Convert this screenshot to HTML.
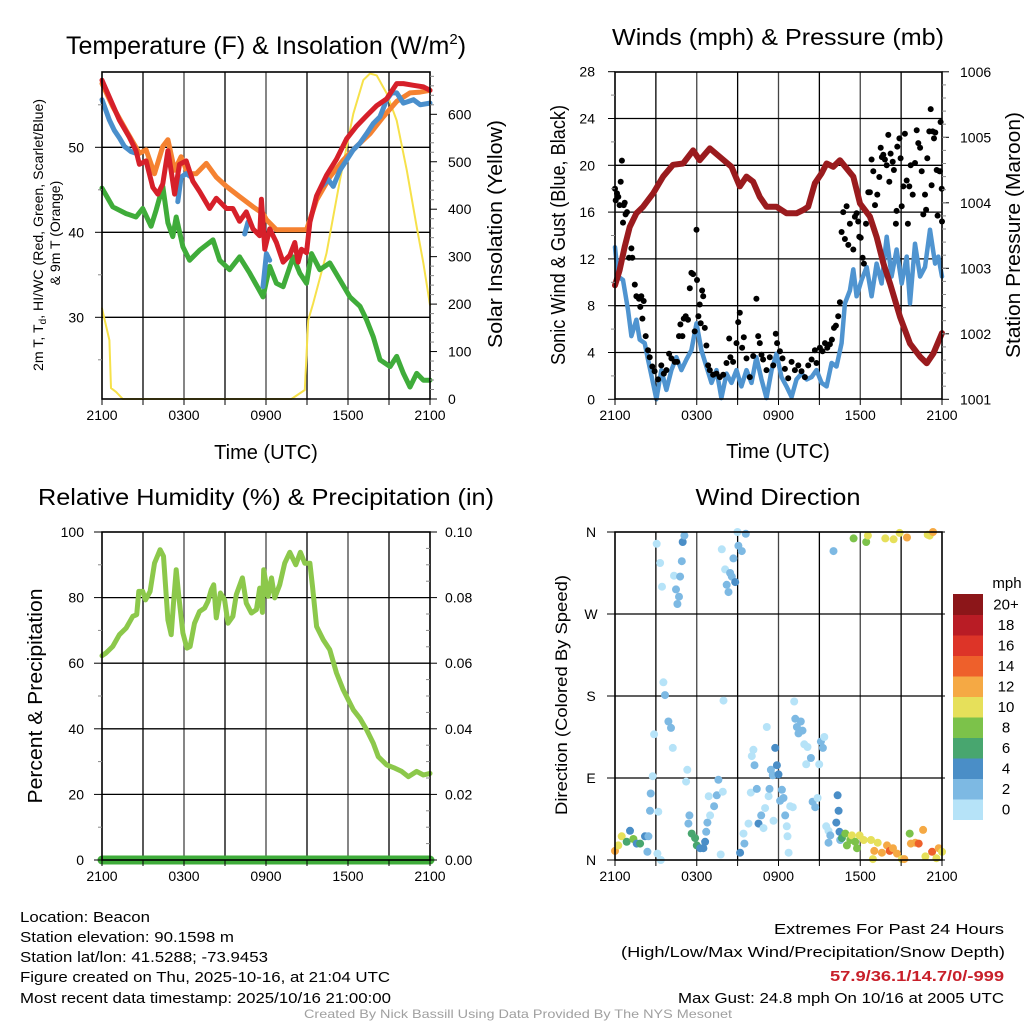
<!DOCTYPE html>
<html><head><meta charset="utf-8"><style>
html,body{margin:0;padding:0;background:#fff;}
svg{display:block;font-family:"Liberation Sans",Arial,sans-serif;}
</style></head><body>
<svg id="fig" width="1024" height="1024" viewBox="0 0 1024 1024">
<rect x="0" y="0" width="1024" height="1024" fill="#fff"/>
<g id="layer-grid"></g>
<g id="layer-data"></g>
<g id="layer-frame"></g>
<g font-size="23" fill="#000">
<text x="266" y="54" text-anchor="middle" font-size="25">Temperature (F) &amp; Insolation (W/m<tspan dy="-10" font-size="15">2</tspan><tspan dy="10">)</tspan></text>
<text x="778" y="45" text-anchor="middle" textLength="332" lengthAdjust="spacingAndGlyphs">Winds (mph) &amp; Pressure (mb)</text>
<text x="266" y="505" text-anchor="middle" textLength="456" lengthAdjust="spacingAndGlyphs">Relative Humidity (%) &amp; Precipitation (in)</text>
<text x="778" y="505" text-anchor="middle" textLength="165" lengthAdjust="spacingAndGlyphs">Wind Direction</text>
</g>
<g font-size="20" fill="#000">
<text x="266" y="459" text-anchor="middle">Time (UTC)</text>
<text x="778" y="458" text-anchor="middle">Time (UTC)</text>
<text transform="translate(502,234) rotate(-90)" text-anchor="middle" textLength="228" lengthAdjust="spacingAndGlyphs">Solar Insolation (Yellow)</text>
<text transform="translate(565,235) rotate(-90)" text-anchor="middle" textLength="260" lengthAdjust="spacingAndGlyphs">Sonic Wind &amp; Gust (Blue, Black)</text>
<text transform="translate(1020,235) rotate(-90)" text-anchor="middle" textLength="246" lengthAdjust="spacingAndGlyphs">Station Pressure (Maroon)</text>
<text transform="translate(42,696) rotate(-90)" text-anchor="middle" textLength="215" lengthAdjust="spacingAndGlyphs">Percent &amp; Precipitation</text>
<text transform="translate(567,695) rotate(-90)" text-anchor="middle" font-size="17" textLength="240" lengthAdjust="spacingAndGlyphs">Direction (Colored By Speed)</text>
</g>
<g font-size="14" fill="#000">
<text transform="translate(43,235) rotate(-90)" text-anchor="middle" textLength="272" lengthAdjust="spacingAndGlyphs">2m T, T<tspan font-size="10" dy="3">d</tspan><tspan dy="-3">, HI/WC (Red, Green, Scarlet/Blue)</tspan></text>
<text transform="translate(60,233) rotate(-90)" text-anchor="middle">&amp; 9m T (Orange)</text>
</g>
<g id="layer-ticks" font-size="14" fill="#000"></g>
<g id="colorbar"></g>
<g font-size="15" fill="#000">
<text x="20" y="922" textLength="130" lengthAdjust="spacingAndGlyphs">Location: Beacon</text>
<text x="20" y="942" textLength="214" lengthAdjust="spacingAndGlyphs">Station elevation: 90.1598 m</text>
<text x="20" y="962" textLength="248" lengthAdjust="spacingAndGlyphs">Station lat/lon: 41.5288; -73.9453</text>
<text x="20" y="982" textLength="370" lengthAdjust="spacingAndGlyphs">Figure created on Thu, 2025-10-16, at 21:04 UTC</text>
<text x="20" y="1003" textLength="371" lengthAdjust="spacingAndGlyphs">Most recent data timestamp: 2025/10/16 21:00:00</text>
<text x="1004" y="934" text-anchor="end" textLength="230" lengthAdjust="spacingAndGlyphs">Extremes For Past 24 Hours</text>
<text x="1005" y="957" text-anchor="end" textLength="384" lengthAdjust="spacingAndGlyphs">(High/Low/Max Wind/Precipitation/Snow Depth)</text>
<text x="1004" y="981" text-anchor="end" font-weight="bold" fill="#c8202a" textLength="174" lengthAdjust="spacingAndGlyphs">57.9/36.1/14.7/0/-999</text>
<text x="1004" y="1003" text-anchor="end" textLength="326" lengthAdjust="spacingAndGlyphs">Max Gust: 24.8 mph On 10/16 at 2005 UTC</text>
</g>
<text x="518" y="1018" text-anchor="middle" font-size="12" fill="#a0a0a0" textLength="428" lengthAdjust="spacingAndGlyphs">Created By Nick Bassill Using Data Provided By The NYS Mesonet</text>
</svg>
<script>
// ---- data (hours since 2100 UTC) ----
const xTickLabels = ["2100","0300","0900","1500","2100"];
const tempTicks = [30,40,50];
const solarTicks = [0,100,200,300,400,500,600];
const windTicks = [0,4,8,12,16,20,24,28];
const presTicks = [1001,1002,1003,1004,1005,1006];
const rhTicks = [0,20,40,60,80,100];
const precipTickLabels = ["0.00","0.02","0.04","0.06","0.08","0.10"];
const dirTickLabels = ["N","E","S","W","N"];
const speedBinLabels = ["0","2","4","6","8","10","12","14","16","18","20+"];
const speedBinColors = ["#b6e3f8","#7db9e3","#4a8ec7","#48a66f","#7cc24a","#e6e05a","#f5a944","#ee602b","#dd3428","#b91c25","#8c1619"];

const tRedHours = [0,0.54,1.27,2.0,2.49,2.74,3.23,3.72,4.08,4.45,4.82,5.06,5.31,5.67,6.16,6.65,7.14,7.87,8.36,9.10,9.58,10.07,10.56,11.05,11.54,11.66,11.91,12.27,12.76,13.25,13.74,14.11,14.35,14.60,14.96,15.21,15.70,16.43,17.16,17.90,18.63,19.36,20.10,20.83,21.56,22.05,22.79,23.52,24.0];
const tRedVals = [57.9,55.9,53.2,51.2,49.6,48.0,48.4,45.3,44.5,45.7,49.6,47.2,44.5,48.0,48.4,46.0,44.8,42.8,44.0,42.8,42.8,41.3,42.4,40.4,39.6,43.9,38.0,40.4,38.8,36.5,37.3,38.8,36.5,38.0,37.6,41.2,44.3,46.7,48.6,51.0,52.5,53.7,54.9,55.7,57.5,57.5,57.3,57.1,56.7];
const tOrangeHours = [0,0.78,1.76,2.74,3.23,3.84,4.45,4.82,5.31,5.79,6.28,6.89,7.63,8.36,9.10,10.07,11.05,11.78,12.03,12.76,13.50,14.23,14.96,15.70,16.67,17.65,18.63,19.61,20.59,21.56,22.54,23.28,24.0];
const tOrangeVals = [57.5,54.8,52.0,49.3,49.7,46.9,50.1,50.9,47.3,48.9,46.9,46.9,48.1,46.5,45.4,44.2,43.0,42.2,41.5,40.3,40.3,40.3,40.3,43.8,46.5,48.5,50.1,51.6,53.6,55.4,56.4,56.5,56.7];
const tBlueHours = [0,0.54,0.90,1.27,1.64,2.13,2.49,2.6,5.55,5.79,6.16,6.53,6.6,10.44,10.68,10.8,11.78,12.03,12.27,12.4,16.06,16.55,16.92,17.41,17.90,18.39,18.88,19.36,19.85,20.34,20.83,21.20,21.56,22.05,22.79,23.28,24.0];
const tBlueVals = [55.6,53.2,52.0,51.1,50.1,49.5,49.3,null,43.6,46.5,46.9,46.5,null,39.8,41.2,null,33.6,37.5,36.7,null,45.4,46.2,45.4,47.3,48.5,49.7,50.5,51.6,52.8,53.6,55.6,56.4,56.4,55.2,55.6,55.0,55.2];
const tGreenHours = [0,0.78,1.76,2.49,2.98,3.59,3.96,4.45,4.82,5.18,5.43,5.92,6.41,7.14,8.12,8.61,9.34,10.07,10.81,11.78,12.27,12.76,13.25,13.99,14.47,14.96,15.33,15.94,16.67,17.41,18.14,18.88,19.36,19.85,20.34,21.08,21.56,22.05,22.54,23.03,23.52,24.0];
const tGreenVals = [45.2,43.0,42.2,41.8,42.8,40.7,42.6,45.4,41.1,39.5,41.8,38.3,36.7,37.9,39.1,36.7,35.6,37.1,35.2,32.4,36.0,34.0,33.6,37.1,35.2,34.0,37.5,35.6,36.4,34.4,32.4,31.3,29.7,27.7,25.0,24.2,25.4,23.4,21.8,23.4,22.6,22.6];
const solarHours = [0,0.54,0.66,1.03,1.52,13.86,14.84,15.09,15.45,16.43,17.41,18.39,19.12,19.61,20.10,20.83,21.56,22.30,23.03,23.52,24.0];
const solarVals = [191,124,23,15,0,0,19,166,201,307,461,601,672,686,682,644,587,482,363,286,198];

const presHours = [0,0.34,0.71,1.08,1.57,2.06,2.79,3.53,4.26,5.0,5.73,6.22,6.96,7.69,8.55,9.16,9.65,10.14,10.63,11.12,11.85,12.59,13.32,13.81,14.18,14.67,15.16,15.53,16.02,16.51,17.49,17.98,18.71,19.20,19.69,20.18,20.92,21.65,22.39,22.88,23.37,24.0];
const presVals = [1002.74,1002.97,1003.33,1003.63,1003.84,1003.94,1004.14,1004.40,1004.58,1004.60,1004.80,1004.65,1004.83,1004.70,1004.55,1004.25,1004.40,1004.32,1004.09,1003.94,1003.94,1003.84,1003.84,1003.89,1003.94,1004.30,1004.45,1004.60,1004.55,1004.65,1004.40,1003.99,1003.79,1003.48,1003.08,1002.77,1002.26,1001.85,1001.65,1001.55,1001.70,1002.01];
const windHours = [0,0.22,0.59,0.96,1.20,1.57,1.81,2.18,2.42,2.79,3.04,3.40,3.77,4.14,4.51,4.87,5.24,5.61,5.98,6.34,6.71,7.08,7.45,7.81,8.18,8.55,8.92,9.28,9.65,10.02,10.38,10.75,11.12,11.49,11.85,12.22,12.59,12.96,13.32,13.69,14.06,14.43,14.79,15.16,15.53,15.90,16.26,16.63,16.87,17.24,17.49,17.73,18.10,18.47,18.83,19.20,19.57,19.94,20.30,20.67,21.04,21.41,21.65,22.02,22.39,22.75,23.12,23.49,23.73,24.0];
const windVals = [13.0,10.5,10.2,7.6,5.4,6.8,5.1,4.8,3.4,1.4,0,2.5,0.8,2.5,3.6,2.5,3.4,4.2,6.5,4.2,2.8,1.4,2.5,0.1,2.2,1.4,2.5,1.1,2.5,1.4,3.6,1.7,0.1,2.5,3.9,1.9,1.1,0.2,1.7,2.2,1.7,1.9,2.5,1.4,1.1,3.1,2.8,4.8,8.2,9.3,11.1,8.8,10.2,11.3,8.8,11.6,9.9,13.9,10.5,12.8,9.9,12.2,8.2,13.3,10.5,11.3,14.5,11.6,12.2,10.5];
const gustHours = [0,0.05,0.15,0.24,0.34,0.42,0.51,0.64,0.71,0.59,0.78,0.88,1.03,1.20,1.27,1.45,1.57,1.76,1.86,1.93,2.01,2.11,2.25,2.42,2.55,2.74,2.91,3.16,3.40,3.58,3.77,3.97,4.14,4.38,4.56,4.70,4.80,4.95,5.05,5.19,5.36,5.49,5.61,5.73,5.85,5.98,6.02,6.12,6.22,6.29,6.39,6.47,6.59,6.71,6.83,6.96,7.20,7.45,7.69,7.94,8.18,8.38,8.47,8.67,8.92,9.04,9.16,9.33,9.45,9.65,9.89,10.14,10.38,10.51,10.63,10.75,10.87,11.12,11.36,11.61,11.80,11.90,12.10,12.29,12.47,12.71,12.96,13.20,13.45,13.69,13.94,14.18,14.43,14.67,14.79,15.04,15.23,15.41,15.58,15.77,15.92,16.07,16.21,16.38,16.51,16.63,16.75,16.87,17.00,17.12,17.24,17.49,17.61,17.73,17.85,17.93,18.03,18.17,18.27,18.42,18.59,18.71,18.83,18.96,19.08,19.25,19.40,19.50,19.59,19.69,19.81,19.94,20.06,20.13,20.23,20.38,20.47,20.62,20.67,20.72,20.87,20.96,21.04,21.16,21.28,21.41,21.50,21.60,21.70,21.85,22.02,22.14,22.26,22.39,22.51,22.63,22.75,22.83,22.92,23.07,23.17,23.24,23.32,23.41,23.51,23.61,23.68,23.81,23.85,23.90,23.98,24.0];
const gustVals = [18.0,17.0,17.6,17.3,16.6,18.6,20.4,16.6,16.8,15.1,15.8,16.0,12.1,12.9,12.1,9.8,8.8,8.6,7.9,8.8,6.9,8.4,5.4,4.2,3.6,2.8,2.4,1.7,2.9,2.2,2.5,3.9,3.5,3.2,3.2,5.4,6.4,5.4,6.9,7.1,6.8,9.5,10.8,10.7,5.8,14.5,10.2,7.1,8.1,6.5,9.3,8.8,6.1,4.6,2.9,2.5,2.1,2.2,1.9,2.1,3.1,5.2,3.6,3.2,4.8,6.6,7.4,4.4,5.3,3.5,1.9,3.7,8.6,5.4,4.8,3.8,3.4,2.5,3.6,2.9,5.6,4.8,4.1,3.5,2.6,1.8,3.2,2.5,2.9,2.4,1.9,2.9,3.4,4.2,3.1,4.4,4.1,4.8,4.4,4.7,5.1,6.1,6.3,7.1,8.3,14.3,16.0,13.7,16.5,13.2,15.0,12.8,15.6,15.9,15.2,13.9,13.8,12.1,11.6,15.0,17.7,17.7,20.5,19.5,16.6,17.5,19.0,21.5,20.7,20.9,20.5,20.0,22.6,18.6,21.0,20.3,19.6,15.0,16.1,21.6,22.3,20.6,16.5,18.2,22.7,18.7,15.0,18.2,20.0,17.5,20.2,23.0,21.9,21.5,19.5,15.8,17.5,16.2,20.6,22.9,24.8,18.3,22.9,22.3,22.8,19.6,15.7,19.5,19.5,23.7,18.0,15.2];

const rhHours = [0,0.29,0.78,1.27,1.76,2.25,2.54,2.69,2.98,3.18,3.52,3.84,4.25,4.50,4.82,5.06,5.23,5.43,5.62,5.92,6.21,6.45,6.77,7.14,7.51,7.75,8.0,8.17,8.36,8.66,8.97,9.22,9.58,9.83,10.27,10.56,10.93,11.30,11.54,11.74,11.83,12.15,12.40,12.64,13.0,13.37,13.74,14.18,14.52,14.84,15.21,15.40,15.70,16.19,16.67,17.16,17.65,18.39,18.87,19.36,19.85,20.22,20.83,21.44,21.93,22.42,23.03,23.52,24.0];
const rhVals = [62.3,63.1,65.1,68.7,70.7,74.3,74.8,81.9,81.9,79.3,81.9,90.5,94.6,92.6,73.2,68.7,78.3,88.5,80.4,69.2,64.6,65.1,72.2,75.8,76.8,78.8,82.4,83.9,73.8,81.4,79.3,72.2,74.3,80.9,86.0,78.3,75.3,76.3,82.9,75.5,88.5,80.4,86.0,79.9,83.9,90.5,93.8,90.0,93.8,90.5,90.5,83.4,71.2,67.1,64.1,57.0,51.9,45.8,43.2,39.7,35.6,31.5,29.0,28.0,27.0,25.4,27.0,25.9,26.4];
const precipHours = [0,24];
const precipVals = [0,0];

const dirHours = [0,0.24,0.49,0.86,1.10,1.35,1.59,1.84,2.20,2.45,
2.38,2.62,2.57,2.77,2.87,3.11,3.18,3.36,3.06,3.31,
3.45,3.55,3.67,3.92,4.11,4.24,4.33,4.48,4.70,4.58,
4.78,4.90,4.97,5.09,5.31,5.22,5.46,5.39,5.63,5.88,
6.0,6.25,6.49,6.61,6.69,6.78,6.98,6.88,7.27,7.47,
7.59,7.91,7.76,7.84,7.96,8.08,8.20,8.33,8.45,8.57,
8.69,8.82,8.99,9.06,9.18,9.31,9.43,9.50,9.60,9.80,
10.04,10.16,10.24,9.97,10.41,10.53,10.73,10.90,11.02,11.14,
11.27,11.34,11.44,11.58,11.63,11.76,11.88,12.0,12.12,12.25,
12.37,12.49,12.61,12.66,12.74,12.86,13.05,13.15,13.23,13.35,
13.47,13.64,13.76,13.89,14.03,14.13,14.38,14.50,14.69,14.87,
14.99,15.11,15.26,15.36,15.50,15.67,15.80,15.67,16.04,16.24,
16.34,16.41,16.48,16.53,16.65,16.90,17.02,17.27,17.39,17.51,
17.63,17.76,17.95,18.25,18.44,18.56,18.79,18.93,19.03,19.28,
19.59,19.84,19.96,20.16,20.40,20.45,20.70,20.89,21.06,21.23,
21.43,21.63,21.72,22.04,22.29,22.61,22.78,22.95,23.10,23.27,
23.34,23.59,23.76,24.0];
const dirVals = [10,16,26,20,32,23,18,18,26,26,
9,73,54,92,138,7,53,0,347,326,
300,195,181,152,145,123,312,297,289,281,
311,328,349,356,99,86,49,40,29,24,
16,13,13,20,31,41,49,70,59,71,
88,75,6,341,175,319,302,294,315,311,
331,305,360,345,8,339,29,18,358,40,
114,121,104,74,78,40,49,35,57,146,
70,78,99,93,43,123,104,94,65,77,
68,49,37,26,8,59,58,174,155,146,
139,152,142,127,105,124,112,64,58,68,
105,130,123,135,37,32,27,19,339,41,
71,54,31,22,24,29,16,22,27,353,
20,13,27,22,349,356,22,1,10,19,
8,353,16,10,13,352,7,359,1,1,
354,29,18,19,18,33,4,357,356,9,
360,2,13,9];
const dirSpeeds = [12,10,10,7,4,8,4,6,4,3,
2,2,2,1,0,1,1,0,0,0,
0,0,2,2,2,0,1,2,2,2,
2,2,4,2,1,1,2,2,6,6,
6,4,4,4,2,2,1,1,2,2,
2,1,0,0,0,1,2,2,2,2,
2,4,0,2,4,2,1,2,2,0,
1,1,2,1,2,4,2,1,1,0,
1,2,2,2,0,4,4,4,2,2,
2,2,1,0,0,1,1,1,2,2,
2,2,2,1,1,0,2,2,2,1,
0,3,3,0,1,1,2,2,2,4,
4,4,4,2,6,8,8,8,10,8,
8,8,10,10,8,10,10,10,12,10,
12,10,12,15,12,10,12,10,10,12,
12,8,12,12,15,12,10,10,10,15,
12,10,12,10];

// ---- geometry / axis functions ----
const P1 = {x0:102,x1:430,y0:72,y1:399};
const P2 = {x0:615,x1:942,y0:72,y1:399};
const P3 = {x0:102,x1:430,y0:532,y1:860};
const P4 = {x0:615,x1:942,y0:532,y1:860};
function hx(P,h){ return P.x0 + (P.x1-P.x0)*h/24; }
function tempY(v){ return 317.3-(v-30)*8.5; }
function solarY(w){ return 399-w*0.4745; }
function windY(m){ return 399.3-m*11.7; }
function presY(p){ return 399.3-(p-1001)*65.5; }
function rhY(v){ return 860-v*3.28; }
function precipY(p){ return 860-p*3280; }
function dirY(d){ return 860-d*328/360; }

const NS="http://www.w3.org/2000/svg";
const gGrid=document.getElementById('layer-grid');
const gData=document.getElementById('layer-data');
const gFrame=document.getElementById('layer-frame');
const gTicks=document.getElementById('layer-ticks');
function mk(tag,attrs,parent){ const e=document.createElementNS(NS,tag); for(const k in attrs) e.setAttribute(k,attrs[k]); parent.appendChild(e); return e; }

function line(x1,y1,x2,y2,parent,stroke,w){
  const l=mk('line',{x1:x1,y1:y1,x2:x2,y2:y2,stroke:stroke||'#000','stroke-width':w||1},parent);
  
  
  return l;
}
function label(x,y,txt,anchor,name){
  const t=mk('text',{x:x,y:y,'text-anchor':anchor},gTicks);
  t.textContent=txt;
  
  
  return t;
}
function frame(P,name){
  const r=mk('rect',{x:P.x0,y:P.y0,width:P.x1-P.x0,height:P.y1-P.y0,fill:'none',stroke:'#000','stroke-width':1.6},gFrame);
  
  
  for(let h=3;h<24;h+=3){ line(hx(P,h),P.y0,hx(P,h),P.y1,gGrid,(h%6==0)?'#444':'#000',1.3); }
  for(let i=0;i<xTickLabels.length;i++){
    const x=hx(P,i*6);
    line(x,P.y1,x,P.y1+6,gFrame);
    label(x,P.y1+21,xTickLabels[i],'middle','x-tick-label');
  }
  for(let h=3;h<24;h+=6){ line(hx(P,h),P.y1,hx(P,h),P.y1+6,gFrame); }
}
function path(hours,vals,P,yf,color,w,name){
  let d='',pen=false;
  for(let i=0;i<hours.length;i++){
    if(vals[i]===null||vals[i]===undefined){pen=false;continue;}
    const x=hx(P,Math.max(0,Math.min(24,hours[i]))).toFixed(1), y=yf(vals[i]).toFixed(1);
    d+=(pen?'L':'M')+x+' '+y+' '; pen=true;
  }
  const p=mk('path',{d:d,fill:'none',stroke:color,'stroke-width':w,'stroke-linejoin':'round','stroke-linecap':'round'},gData);
  
  
}

// Panel 1
frame(P1,'temperature-plot-frame');
tempTicks.forEach(v=>{ line(P1.x0,tempY(v),P1.x1,tempY(v),gGrid,'#000',1.3); line(P1.x0-7,tempY(v),P1.x0,tempY(v),gFrame); label(84,tempY(v)+5,String(v),'end','temperature-tick-label'); });
for(let v=25;v<=55;v+=10){ line(P1.x0-4,tempY(v),P1.x0,tempY(v),gFrame,'#888'); }
solarTicks.forEach(w=>{ line(P1.x1,solarY(w),P1.x1+7,solarY(w),gFrame); label(448,solarY(w)+5,String(w),'start','solar-tick-label'); });
for(let w=20;w<=680;w+=20){ if(w%100) line(P1.x1,solarY(w),P1.x1+4,solarY(w),gFrame,'#888'); }
path(solarHours,solarVals,P1,solarY,'#f6e14a',2,'solar-insolation-line');
path(tGreenHours,tGreenVals,P1,tempY,'#3fac3a',5,'dewpoint-line');
path(tOrangeHours,tOrangeVals,P1,tempY,'#f58231',5,'temperature-9m-line');
path(tBlueHours,tBlueVals,P1,tempY,'#4a8fcc',5,'heat-index-windchill-line');
path(tRedHours,tRedVals,P1,tempY,'#d6202a',5,'temperature-2m-line');

// Panel 2
frame(P2,'wind-plot-frame');
windTicks.forEach(m=>{ if(m>0&&m<28) line(P2.x0,windY(m),P2.x1,windY(m),gGrid,'#000',1.3); line(P2.x0-7,windY(m),P2.x0,windY(m),gFrame); label(595,windY(m)+5,String(m),'end','wind-tick-label'); });
for(let m=2;m<28;m+=4){ line(P2.x0-4,windY(m),P2.x0,windY(m),gFrame,'#888'); }
presTicks.forEach(p=>{ line(P2.x1,presY(p),P2.x1+7,presY(p),gFrame); label(960,presY(p)+5,String(p),'start','pressure-tick-label'); });
for(let p=1001.2;p<1006;p+=0.2){ line(P2.x1,presY(p),P2.x1+4,presY(p),gFrame,'#888'); }
path(windHours,windVals,P2,windY,'#4f94d0',4.5,'sonic-wind-line');
for(let i=0;i<gustHours.length;i++){
  if(gustVals[i]===undefined) continue;
  const c=mk('circle',{cx:hx(P2,Math.min(24,gustHours[i])).toFixed(1),cy:windY(gustVals[i]).toFixed(1),r:3,fill:'#000'},gData);
  
  
}
path(presHours,presVals,P2,presY,'#9a1b1e',6,'station-pressure-line');

// Panel 3
frame(P3,'humidity-plot-frame');
rhTicks.forEach((v,i)=>{ if(v>0&&v<100) line(P3.x0,rhY(v),P3.x1,rhY(v),gGrid,'#000',1.3); line(P3.x0-8,rhY(v),P3.x0,rhY(v),gFrame); label(84,rhY(v)+5,String(v),'end','humidity-tick-label'); label(445,rhY(v)+5,precipTickLabels[i],'start','precip-tick-label'); line(P3.x1,rhY(v),P3.x1+7,rhY(v),gFrame); });
for(let v=10;v<100;v+=20){ line(P3.x0-4,rhY(v),P3.x0,rhY(v),gFrame,'#888'); }
for(let v=5;v<100;v+=5){ if(v%20) line(P3.x1-4,rhY(v),P3.x1,rhY(v),gFrame,'#888'); }
path(rhHours,rhVals,P3,rhY,'#8cc84b',5,'relative-humidity-line');
path(precipHours,precipVals,P3,precipY,'#3fac3a',9,'precipitation-line');

// Panel 4
frame(P4,'direction-plot-frame');
dirTickLabels.forEach((s,i)=>{ const d=i*90; if(d>0&&d<360) line(P4.x0,dirY(d),P4.x1,dirY(d),gGrid,'#000',1.3); line(P4.x0-8,dirY(d),P4.x0,dirY(d),gFrame); line(P4.x1,dirY(d),P4.x1+3,dirY(d),gFrame); label(591,dirY(d)+5,s,'middle','direction-tick-label'); });
for(let i=0;i<dirHours.length;i++){
  if(dirVals[i]===undefined||dirSpeeds[i]===undefined) continue;
  const bin=Math.min(10,Math.floor(dirSpeeds[i]/2));
  const c=mk('circle',{cx:hx(P4,Math.min(24,dirHours[i])).toFixed(1),cy:dirY(dirVals[i]).toFixed(1),r:4,fill:speedBinColors[bin]},gData);
  
  
}

// Colorbar
const gCb=document.getElementById('colorbar');
const ttl=mk('text',{x:1007,y:588,'text-anchor':'middle','font-size':15},gCb);
ttl.textContent='mph';


for(let i=0;i<speedBinColors.length;i++){
  const y=799-i*20.5;
  const r=mk('rect',{x:953,y:y.toFixed(1),width:30,height:21,fill:speedBinColors[i]},gCb);
  
  
  const t=mk('text',{x:1006,y:(y+15.5).toFixed(1),'text-anchor':'middle','font-size':15},gCb);
  t.textContent=speedBinLabels[i];
  
  
}
</script>
</body></html>
